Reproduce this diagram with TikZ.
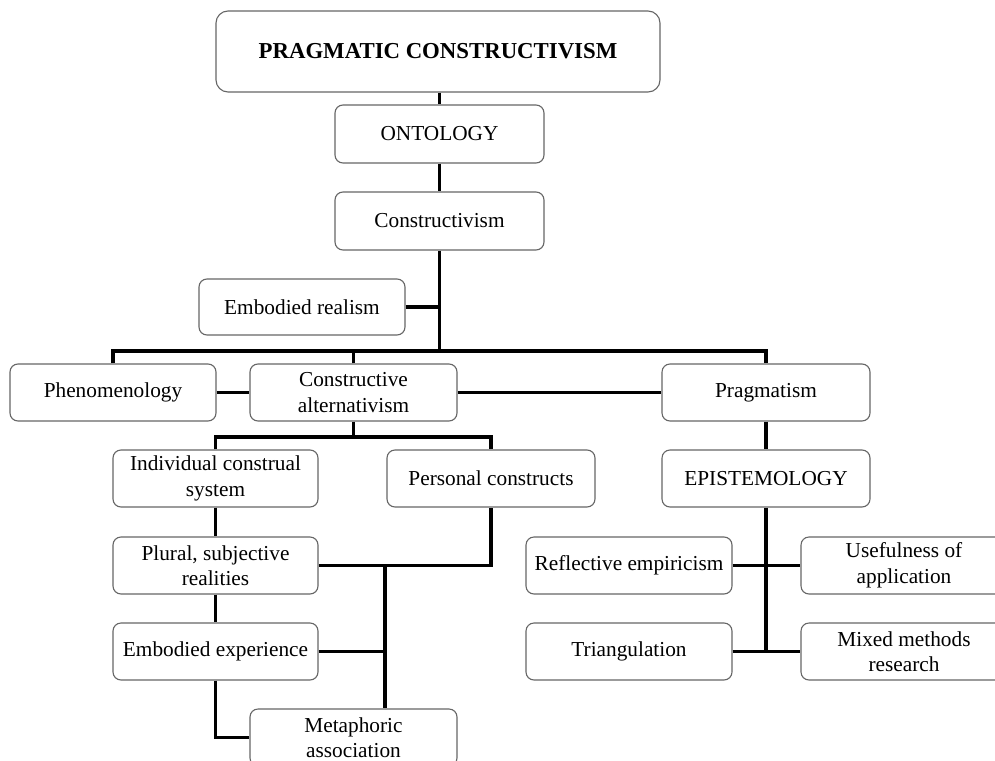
\documentclass[tikz,border=0pt]{standalone}
\usepackage{fontspec}
\setmainfont{Liberation Serif}
\begin{document}
\begin{tikzpicture}[x=1pt,y=-1pt,
  box/.style={draw=black!60, line width=1.1pt, rounded corners=8pt, fill=white,
    inner sep=0pt, align=center, font=\fontsize{21.3}{25.5}\selectfont},
  link/.style={line width=3.2pt, black}]
\useasboundingbox (0,0) rectangle (995,760);
\clip (0,0) rectangle (995,760);

% box given by its left, top, right, bottom edges (pixels)
\newcommand\boxat[6]{%
  \node[box, minimum width={(#4-#2)*1pt}, minimum height={(#5-#3)*1pt},#6] (#1)
    at ({(#2+#4)/2},{(#3+#5)/2})}

\boxat{top}{216}{11}{660}{92}{rounded corners=12pt, font=\fontsize{22.8}{27}\selectfont\bfseries} {PRAGMATIC CONSTRUCTIVISM};
\boxat{ont}{335}{105}{544}{163}{} {ONTOLOGY};
\boxat{cvm}{335}{192}{544}{250}{} {Constructivism};
\boxat{er}{199}{279}{405}{335}{} {Embodied realism};
\boxat{phen}{10}{364}{216}{421}{} {Phenomenology};
\boxat{ca}{250}{364}{457}{421}{} {Constructive\\alternativism};
\boxat{prag}{662}{364}{870}{421}{} {Pragmatism};
\boxat{ics}{113}{450}{318}{507}{} {Individual construal\\system};
\boxat{pc}{387}{450}{595}{507}{} {Personal constructs};
\boxat{epi}{662}{450}{870}{507}{} {EPISTEMOLOGY};
\boxat{psr}{113}{537}{318}{594}{} {Plural, subjective\\realities};
\boxat{re}{526}{537}{732}{594}{} {Reflective empiricism};
\boxat{uoa}{801}{537}{1007}{594}{} {Usefulness of\\application};
\boxat{ee}{113}{623}{318}{680}{} {Embodied experience};
\boxat{tri}{526}{623}{732}{680}{} {Triangulation};
\boxat{mmr}{801}{623}{1007}{680}{} {Mixed methods\\research};
\boxat{meta}{250}{709}{457}{766}{} {Metaphoric\\association};

% junction points of the connector buses
\coordinate (busA) at (440,351);
\coordinate (busB) at (354,437);
\coordinate (junC) at (385,565);
\coordinate (busD) at (767,652);

\draw[link] (top.south -| ont.north) -- (ont.north);
\draw[link] (ont.south) -- (cvm.north);
\draw[link] (cvm.south) -- (cvm.south |- busA);
\draw[link] (er.east) -- (cvm.south |- er.east);
\draw[link] (phen.north) -- (phen.north |- busA) -- (prag.north |- busA) -- (prag.north);
\draw[link] (ca.north) -- (ca.north |- busA);
\draw[link] (phen.east) -- (ca.west);
\draw[link] (ca.east) -- (prag.west);

\draw[link] (ca.south) -- (ca.south |- busB);
\draw[link] (ics.north) -- (ics.north |- busB) -- (pc.north |- busB) -- (pc.north);
\draw[link] (ics.south) -- (psr.north);
\draw[link] (psr.south) -- (ee.north);
\draw[link] (psr.east) -- (pc.south |- psr.east) -- (pc.south);
\draw[link] (junC) -- (junC |- meta.north);
\draw[link] (ee.east) -- (junC |- ee.east);
\draw[link] (ee.south) -- (ee.south |- meta.west) -- (meta.west);

\draw[link] (prag.south) -- (epi.north);
\draw[link] (epi.south) -- (epi.south |- busD);
\draw[link] (re.east) -- (uoa.west);
\draw[link] (tri.east) -- (mmr.west);
\end{tikzpicture}
\end{document}
